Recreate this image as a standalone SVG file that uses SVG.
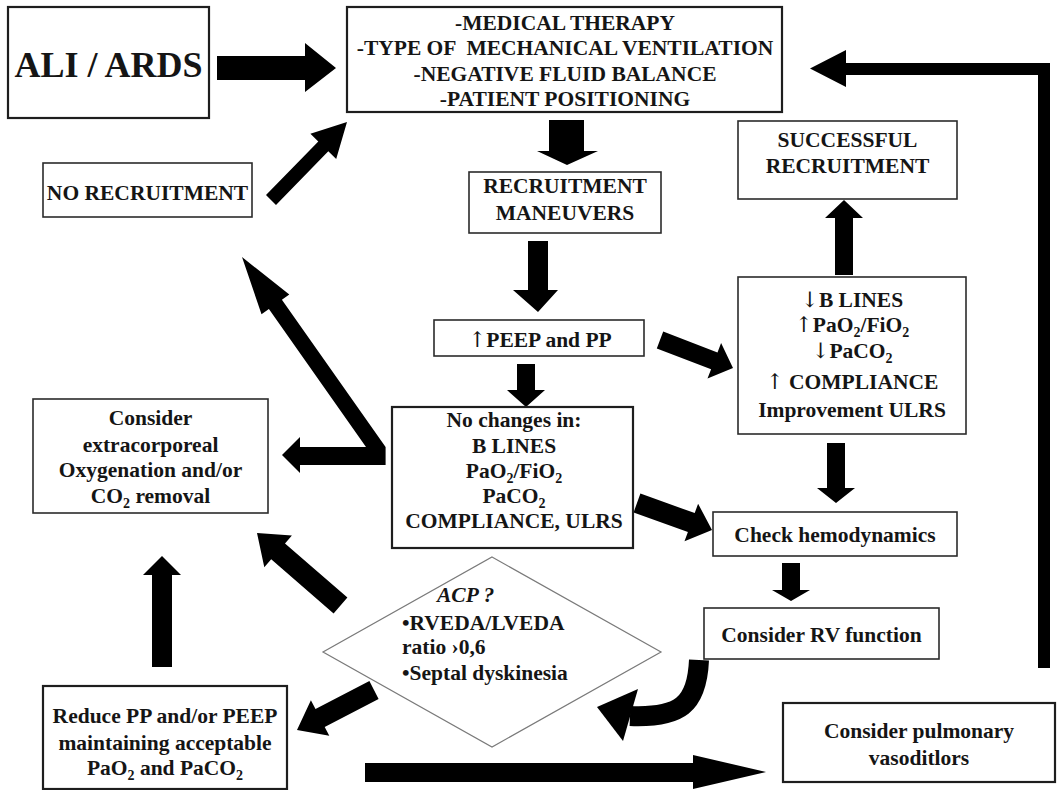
<svg xmlns="http://www.w3.org/2000/svg" width="1060" height="790" viewBox="0 0 1060 790">
  <style>
    .box { fill: #ffffff; stroke: #2b2b2b; stroke-width: 1.6; }
    .box2 { fill: #ffffff; stroke: #1e1e1e; stroke-width: 2.2; }
    .dia { fill: #ffffff; stroke: #7a7a7a; stroke-width: 1.2; }
    .t { font-family: "Liberation Serif", "Times New Roman", serif; font-weight: bold; font-size: 21.5px; fill: #151515; text-anchor: middle; }
    .tl { text-anchor: start; }
    .it { font-style: italic; }
    .sub { font-size: 14px; }
    .ar { font-family: "DejaVu Serif", serif; font-weight: normal; fill: #151515; }
    .arr { fill: #000000; stroke: none; }
    .arrs { fill: none; stroke: #000000; }
  </style>
  <rect width="1060" height="790" fill="#ffffff"/>

  <!-- connectors -->
  <g id="connectors">
    <!-- ALI / ARDS to therapy -->
    <polygon class="arr" points="217,56 305,56 305,43 336,68 305,92 305,80 217,80"/>
    <!-- therapy to recruitment maneuvers -->
    <polygon class="arr" points="549,120 584,120 584,151 598,151 567,165 537,151 549,151"/>
    <!-- recruitment maneuvers to PEEP -->
    <polygon class="arr" points="528,241 548,241 548,290 558,290 538,312 513,290 528,290"/>
    <!-- PEEP to no changes -->
    <polygon class="arr" points="517,364 535,364 535,390 545,390 526,407 507,390 517,390"/>
    <!-- PEEP to improvement -->
    <polygon class="arr" points="663.2,331.6 717.5,352.4 721.1,343.1 733,368 707.5,378.5 711.1,369.2 656.8,348.4"/>
    <!-- improvement to successful recruitment -->
    <polygon class="arr" points="835,275 853,275 853,218 863,218 844,200 825,218 835,218"/>
    <!-- improvement to check hemodynamics -->
    <polygon class="arr" points="827,443 845,443 845,488 855,488 836,503 817,488 827,488"/>
    <!-- no changes to check hemodynamics -->
    <polygon class="arr" points="640.4,493.6 694.7,513.1 698.1,503.7 712,530 684.5,541.3 687.9,531.9 633.6,512.4"/>
    <!-- check hemodynamics to RV function -->
    <polygon class="arr" points="782,563 800,563 800,590 810,590 791,601 772,590 782,590"/>
    <!-- loop back from the right side to therapy -->
    <polygon class="arr" points="1038,668 1050,668 1050,63 846,63 846,50 810,68.5 846,87 846,75 1038,75"/>
    <!-- no recruitment to therapy -->
    <polygon class="arr" points="266,195.1 318.3,141.4 310.4,133.7 347,122 336.2,158.9 328.3,151.2 276,204.9"/>
    <!-- no changes to extracorporeal and to no recruitment -->
    <polygon class="arr" points="282,455 300,437 300,447 366,447 268.9,309 261.5,314.2 242,257 289.3,294.6 281.9,299.8 385.6,447 385.6,465 300,465 300,473"/>
    <!-- ACP to extracorporeal -->
    <polygon class="arr" points="347.4,597.6 285,543.5 291.9,535.5 257,533 264.3,567.3 271.2,559.3 333.6,613.4"/>
    <!-- ACP to reduce PP -->
    <polygon class="arr" points="369.4,681.1 315.5,709.1 310.9,700.3 297,730 329.3,735.7 324.7,726.9 378.6,698.9"/>
    <!-- reduce PP to extracorporeal -->
    <polygon class="arr" points="152,667 172,667 172,575 181,575 162,556 143,575 152,575"/>
    <!-- RV function back to ACP -->
    <path class="arrs" d="M699,660 C697,705 680,718 630,716" stroke-width="20"/>
    <polygon class="arr" points="597,707 638,689 623,741"/>
    <!-- reduce PP to pulmonary vasodilators -->
    <polygon class="arr" points="365,763 693,763 693,755 766,772 693,789 693,782 365,782"/>
  </g>

  <g id="ali-ards">
    <rect class="box2" x="8" y="7" width="201" height="111"/>
    <text class="t" x="108.5" y="77" style="font-size:36px">ALI / ARDS</text>
  </g>

  <g id="therapy">
    <rect class="box2" x="347" y="7" width="435" height="105"/>
    <text class="t" x="565" y="30">-MEDICAL THERAPY</text>
    <text class="t" x="565" y="55" xml:space="preserve">-TYPE OF  MECHANICAL VENTILATION</text>
    <text class="t" x="565" y="81">-NEGATIVE FLUID BALANCE</text>
    <text class="t" x="565" y="106">-PATIENT POSITIONING</text>
  </g>

  <g id="no-recruitment">
    <rect class="box" x="43" y="163" width="209" height="54"/>
    <text class="t" x="147.5" y="200">NO RECRUITMENT</text>
  </g>

  <g id="recruitment-maneuvers">
    <rect class="box" x="469" y="172" width="192" height="61"/>
    <text class="t" x="565" y="193">RECRUITMENT</text>
    <text class="t" x="565" y="220">MANEUVERS</text>
  </g>

  <g id="successful-recruitment">
    <rect class="box" x="738" y="121" width="219" height="78"/>
    <text class="t" x="847.5" y="147">SUCCESSFUL</text>
    <text class="t" x="847.5" y="173">RECRUITMENT</text>
  </g>

  <g id="peep-pp">
    <rect class="box" x="434" y="320" width="210" height="36"/>
    <text class="t" x="540" y="347"><tspan class="ar">↑</tspan>PEEP and PP</text>
  </g>

  <g id="improvement">
    <rect class="box" x="738" y="277" width="228" height="157"/>
    <text class="t" x="852" y="307"><tspan class="ar">↓</tspan>B LINES</text>
    <text class="t" x="852" y="332"><tspan class="ar">↑</tspan>PaO<tspan class="sub" dy="5">2</tspan><tspan dy="-5">/FiO</tspan><tspan class="sub" dy="5">2</tspan></text>
    <text class="t" x="852" y="358"><tspan class="ar">↓</tspan>PaCO<tspan class="sub" dy="5">2</tspan></text>
    <text class="t" x="852" y="389"><tspan class="ar">↑</tspan> COMPLIANCE</text>
    <text class="t" x="852" y="417">Improvement ULRS</text>
  </g>

  <g id="extracorporeal">
    <rect class="box" x="33" y="399" width="235" height="114"/>
    <text class="t" x="150.5" y="425">Consider</text>
    <text class="t" x="150.5" y="452">extracorporeal</text>
    <text class="t" x="150.5" y="477">Oxygenation and/or</text>
    <text class="t" x="150.5" y="503">CO<tspan class="sub" dy="5">2</tspan><tspan dy="-5"> removal</tspan></text>
  </g>

  <g id="no-changes">
    <rect class="box2" x="392" y="407" width="241" height="141"/>
    <text class="t" x="514" y="427">No changes in:</text>
    <text class="t" x="514" y="453">B LINES</text>
    <text class="t" x="514" y="478">PaO<tspan class="sub" dy="5">2</tspan><tspan dy="-5">/FiO</tspan><tspan class="sub" dy="5">2</tspan></text>
    <text class="t" x="514" y="503">PaCO<tspan class="sub" dy="5">2</tspan></text>
    <text class="t" x="514" y="528">COMPLIANCE, ULRS</text>
  </g>

  <g id="check-hemodynamics">
    <rect class="box" x="713" y="512" width="244" height="44"/>
    <text class="t" x="835" y="542">Check hemodynamics</text>
  </g>

  <g id="acp">
    <polygon class="dia" points="492,557 661,652 492,747 323,652"/>
    <text class="t tl it" x="437" y="602">ACP ?</text>
    <text class="t tl" x="402" y="630">•RVEDA/LVEDA</text>
    <text class="t tl" x="402" y="654">ratio ›0,6</text>
    <text class="t tl" x="402" y="680">•Septal dyskinesia</text>
  </g>

  <g id="rv-function">
    <rect class="box" x="704" y="608" width="235" height="51"/>
    <text class="t" x="821.5" y="642">Consider RV function</text>
  </g>

  <g id="reduce-pp">
    <rect class="box2" x="43" y="686" width="244" height="103"/>
    <text class="t" x="165" y="723">Reduce PP and/or PEEP</text>
    <text class="t" x="165" y="750">maintaining acceptable</text>
    <text class="t" x="165" y="775">PaO<tspan class="sub" dy="5">2</tspan><tspan dy="-5"> and PaCO</tspan><tspan class="sub" dy="5">2</tspan></text>
  </g>

  <g id="pulmonary-vasodilators">
    <rect class="box2" x="783" y="703" width="272" height="79"/>
    <text class="t" x="919" y="738">Consider pulmonary</text>
    <text class="t" x="919" y="765">vasoditlors</text>
  </g>
</svg>
